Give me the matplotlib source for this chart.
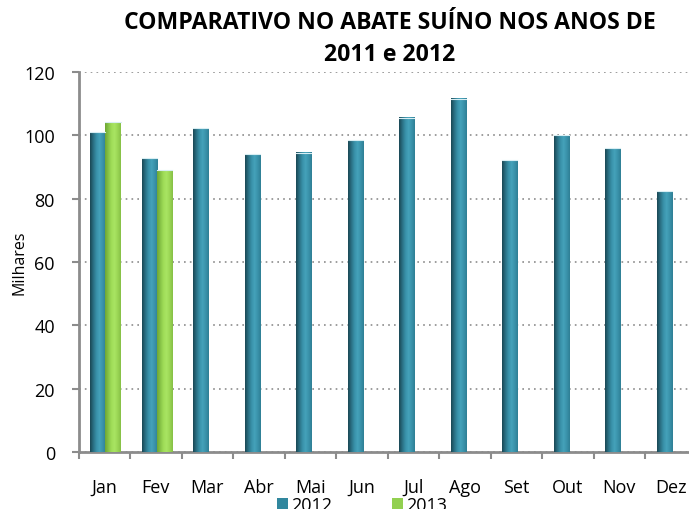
import matplotlib
matplotlib.use("Agg")
import matplotlib.pyplot as plt
import numpy as np
from matplotlib.colors import LinearSegmentedColormap
from matplotlib.patches import Patch

months = ["Jan", "Fev", "Mar", "Abr", "Mai", "Jun", "Jul", "Ago", "Set", "Out", "Nov", "Dez"]
v2012 = [101.0, 92.8, 102.2, 94.1, 94.5, 98.5, 105.5, 111.5, 92.2, 100.1, 96.0, 82.4]
v2013 = [104.1, 88.9]
series_names = ["2012", "2013"]
yticks = [0, 20, 40, 60, 80, 100, 120]
title = "COMPARATIVO NO ABATE SUÍNO NOS ANOS DE\n2011 e 2012"
ylabel = "Milhares"

plt.rcParams['font.family'] = ['Open Sans', 'DejaVu Sans']

fig = plt.figure(figsize=(6.89, 5.10), dpi=100)
ax = fig.add_axes([78.5/689, 57/510, (696.5-78.5)/689, 380/510])

teal_cmap = LinearSegmentedColormap.from_list(
    "teal", ["#1a4754", "#2a6f82", "#3890a8", "#45a2ba", "#3a93ab", "#2f7f95"])
green_cmap = LinearSegmentedColormap.from_list(
    "green", ["#6ea634", "#86c246", "#9fdc58", "#a9e563", "#9bd655", "#86c046"])

w = 0.297
x = np.arange(len(months))
b1 = ax.bar(x - 0.125, v2012, width=w, color="#31879e", label=series_names[0], zorder=3)
b2 = ax.bar(x[:len(v2013)] + 0.172, v2013, width=w, color="#92d050", label=series_names[1], zorder=3)

grad = np.linspace(0, 1, 64).reshape(1, -1)
for bars, cmap in ((b1, teal_cmap), (b2, green_cmap)):
    for r in bars:
        x0, wd, h = r.get_x(), r.get_width(), r.get_height()
        ax.imshow(grad, extent=[x0, x0 + wd, 0, h], aspect='auto', cmap=cmap, zorder=3.5, interpolation='bilinear')
        ax.plot([x0, x0 + wd], [h, h], color="#d8eef3", lw=0.8, zorder=4)

ax.set_xlim(-0.5, len(months) - 0.5)
ax.set_ylim(0, 120)
ax.set_yticks(yticks)
ax.set_xticks(x)
ax.set_xticklabels(months)
ax.set_xticks(np.arange(len(months) + 1) - 0.5, minor=True)
ax.tick_params(axis='x', which='major', length=0, pad=18.5, labelsize=13)
ax.tick_params(axis='x', which='minor', length=5, width=1.5, color="#8c8c8c", direction='out')
ax.tick_params(axis='y', length=5, width=1.5, color="#8c8c8c", labelsize=13, pad=12)

ax.yaxis.grid(True, linestyle=(0, (1, 2.5)), color="#8c8c8c", lw=1.2, zorder=0)
ax.set_axisbelow(True)
for s in ("top", "right"):
    ax.spines[s].set_visible(False)
for s in ("left", "bottom"):
    ax.spines[s].set_color("#8c8c8c")
    ax.spines[s].set_linewidth(2)

ax.set_ylabel(ylabel, fontsize=11.5)
ax.yaxis.set_label_coords((28 - 78.5) / ((696.5 - 78.5)), 0.5)
fig.text(390/689, 1 - 39/510, title, ha='center', va='center', fontsize=16.6,
         fontweight='bold', linespacing=1.45)

handles = [Patch(facecolor="#31879e"), Patch(facecolor="#92d050")]
fig.legend(handles, series_names, loc='upper left', bbox_to_anchor=(277/689, 1 - 497/510),
           ncol=2, frameon=False, fontsize=13, handlelength=0.61, handleheight=0.61,
           handletextpad=0.19, columnspacing=3.3, borderpad=0, borderaxespad=0)

fig.savefig("out.png", dpi=100)
